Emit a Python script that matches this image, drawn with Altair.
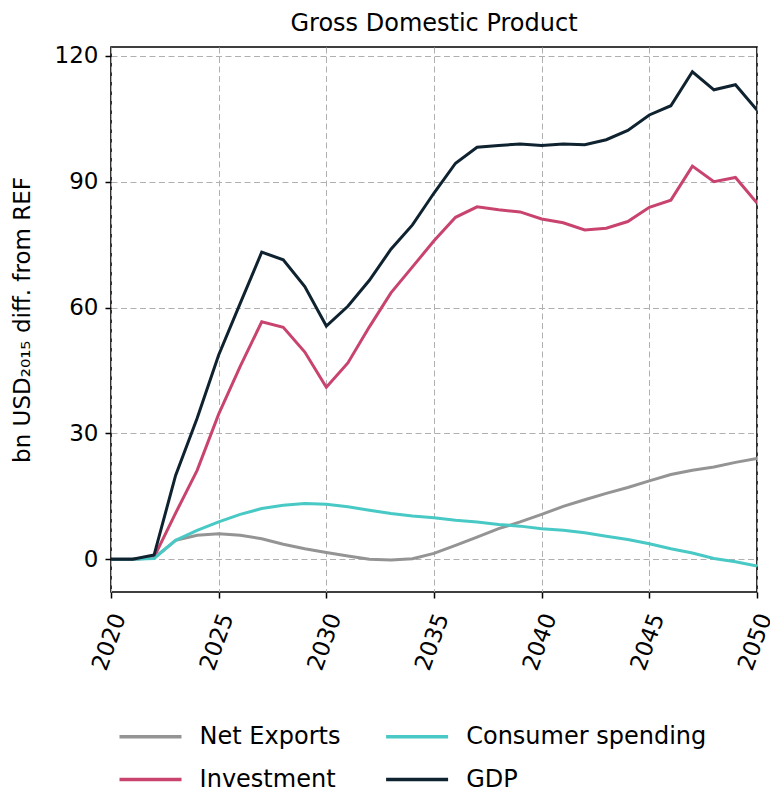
import altair as alt
import pandas as pd

years = list(range(2020, 2051))

net_exports = [0, 0, 0.3, 4.5, 5.7, 6.1, 5.7, 4.9, 3.6, 2.5, 1.6, 0.8, 0.0, -0.2, 0.15,
               1.4, 3.3, 5.3, 7.3, 8.9, 10.7, 12.6, 14.2, 15.7, 17.1, 18.7, 20.2, 21.2, 22.0, 23.1, 24.0]
investment = [0, 0, 0.5, 11.0, 21.2, 34.6, 46.0, 56.6, 55.3, 49.4, 41.0, 46.8, 55.4, 63.5, 69.7,
              75.9, 81.5, 84.0, 83.3, 82.8, 81.1, 80.2, 78.5, 78.9, 80.5, 83.9, 85.6, 93.7, 90.0, 91.0, 84.9]
consumer = [0, 0, 0.2, 4.5, 6.9, 8.9, 10.7, 12.1, 12.9, 13.3, 13.1, 12.5, 11.7, 10.9, 10.3,
            9.9, 9.3, 8.9, 8.3, 7.9, 7.3, 6.9, 6.3, 5.5, 4.7, 3.7, 2.5, 1.5, 0.2, -0.6, -1.6]
gdp = [0, 0, 1.0, 20.0, 33.6, 48.7, 61.0, 73.2, 71.4, 65.0, 55.6, 60.3, 66.5, 73.9, 79.7,
       87.3, 94.4, 98.2, 98.6, 99.0, 98.6, 99.0, 98.8, 100.0, 102.2, 105.9, 108.1, 116.2, 111.9, 113.1, 107.1]

series_names = ["Net Exports", "Investment", "Consumer spending", "GDP"]
series_values = [net_exports, investment, consumer, gdp]
series_colors = ["#949494", "#c8446e", "#48c9c5", "#0f2230"]

x_ticks = [2020, 2025, 2030, 2035, 2040, 2045, 2050]
y_ticks = [0, 30, 60, 90, 120]

rows = []
for k, (name, vals) in enumerate(zip(series_names, series_values)):
    for yr, v in zip(years, vals):
        rows.append({"year": yr, "value": v, "series": name, "z": k})
df = pd.DataFrame(rows)

FONT = "DejaVu Sans"

chart = alt.Chart(df).mark_line(strokeWidth=3, clip=True).encode(
    x=alt.X("year:Q",
            scale=alt.Scale(domain=[2020, 2050], nice=False, zero=False),
            axis=alt.Axis(values=x_ticks, format="d", title=None, labelAngle=290,
                          labelAlign="right", labelBaseline="middle",
                          labelOffset=8, labelPadding=16)),
    y=alt.Y("value:Q",
            scale=alt.Scale(domain=[-7.8, 122.1], nice=False, zero=False),
            axis=alt.Axis(values=y_ticks, title="bn USD₂₀₁₅ diff. from REF",
                          titlePadding=20, labelPadding=7)),
    color=alt.Color("series:N",
                    scale=alt.Scale(domain=series_names, range=series_colors),
                    legend=alt.Legend(title=None, orient="none", legendX=25, legendY=675,
                                      columns=2, symbolType="M-2.5,0H2.5", symbolSize=615,
                                      symbolStrokeWidth=3.5, symbolFillColor="transparent",
                                      labelFontSize=24,
                                      labelFont=FONT, labelColor="black",
                                      labelOffset=34.6, columnPadding=37.6, rowPadding=16,
                                      labelLimit=400)),
    detail="z:O",
).properties(
    width=646, height=545,
    title=alt.TitleParams("Gross Domestic Product", fontSize=24, font=FONT,
                          fontWeight="normal", color="black", offset=9),
    autosize=alt.AutoSizeParams(type="none"),
    padding={"left": 111, "top": 47, "right": 13, "bottom": 195},
).configure_view(
    stroke="black", strokeWidth=1.6
).configure_axis(
    labelFont=FONT, labelFontSize=23, labelColor="black",
    titleFont=FONT, titleFontSize=23, titleColor="black", titleFontWeight="normal",
    tickColor="black", tickSize=6, tickWidth=1.5,
    domain=False,
    grid=True, gridColor="#b0b0b0", gridDash=[6, 3.5], gridWidth=1,
)

chart.save("out.html", embed_options={"renderer": "svg", "actions": False})
